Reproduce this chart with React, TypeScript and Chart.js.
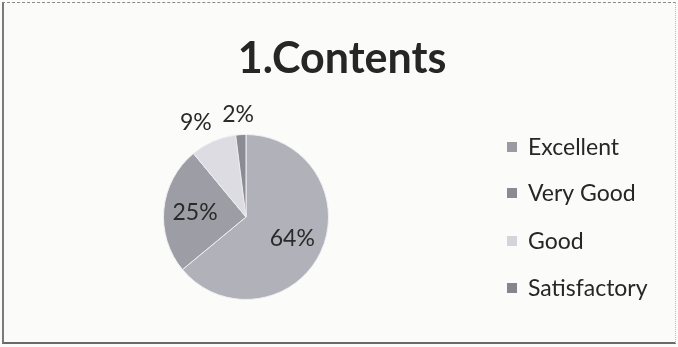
import React, { useEffect, useRef } from "react";
import { Chart, registerables } from "chart.js";

Chart.register(...registerables);

const TITLE = "1.Contents";
const categories = ["Excellent", "Very Good", "Good", "Satisfactory"];
const values = [64, 25, 9, 2];
const colors = ["#b1b1ba", "#9d9da6", "#dcdce2", "#8b8b94"];
const legendColors = ["#9a9aa2", "#8a8a92", "#d4d4da", "#85858d"];

const FONT = "Lato, 'Open Sans', 'DejaVu Sans', sans-serif";

const overlay = {
  id: "overlay",
  afterDraw(chart: any) {
    const ctx = chart.ctx as CanvasRenderingContext2D;
    const meta = chart.getDatasetMeta(0);
    const total = values.reduce((a, b) => a + b, 0);
    ctx.save();
    // title
    ctx.fillStyle = "#262626";
    ctx.font = `bold 43px ${FONT}`;
    ctx.textAlign = "center";
    ctx.textBaseline = "alphabetic";
    ctx.fillText(TITLE, 342, 73);

    // data labels
    ctx.font = `23px ${FONT}`;
    ctx.fillStyle = "#2a2a2a";
    ctx.textBaseline = "middle";
    meta.data.forEach((arc: any, i: number) => {
      const { x, y, startAngle, endAngle, outerRadius } = arc.getProps(
        ["x", "y", "startAngle", "endAngle", "outerRadius"],
        true
      );
      const mid = (startAngle + endAngle) / 2;
      const pct = Math.round((values[i] / total) * 100);
      const label = pct + "%";
      const inside = pct >= 15;
      const r = inside ? outerRadius * 0.62 : outerRadius + 20;
      let px = x + Math.cos(mid) * r;
      const py = y + Math.sin(mid) * r;
      if (!inside) px += Math.cos(mid) * (ctx.measureText(label).width / 2 + 8);
      ctx.textAlign = "center";
      ctx.fillText(label, px, py);
    });

    // legend
    const lx = 507;
    const ys = [147, 193, 241, 288];
    ctx.font = `23px ${FONT}`;
    ctx.textAlign = "left";
    categories.forEach((c, i) => {
      ctx.fillStyle = legendColors[i];
      ctx.fillRect(lx, ys[i] - 5, 10, 10);
      ctx.fillStyle = "#262626";
      ctx.fillText(c, lx + 21, ys[i] + 1);
    });
    ctx.restore();
  },
};

export default function App() {
  const ref = useRef<HTMLCanvasElement | null>(null);
  useEffect(() => {
    document.body.style.margin = "0";
    if (!ref.current) return;
    const cx = 246;
    const cy = 217;
    const r = 83;
    const chart = new Chart(ref.current, {
      type: "pie",
      data: {
        labels: categories,
        datasets: [
          {
            data: values,
            backgroundColor: colors,
            borderColor: "#eeeef0",
            borderWidth: 1,
          },
        ],
      },
      options: {
        animation: false,
        responsive: false,
        maintainAspectRatio: false,
        layout: {
          padding: {
            left: cx - r,
            top: cy - r,
            right: 678 - (cx + r),
            bottom: 347 - (cy + r),
          },
        },
        plugins: {
          legend: { display: false },
          title: { display: false },
          tooltip: { enabled: false },
        },
      },
      plugins: [overlay],
    });
    return () => chart.destroy();
  }, []);

  return (
    <div
      style={{
        position: "fixed",
        left: 0,
        top: 0,
        width: 678,
        height: 347,
        background: "#fbfbfa",
      }}
    >
      <canvas ref={ref} width={678} height={347} style={{ position: "absolute", left: 0, top: 0 }} />
      <div
        style={{
          position: "absolute",
          left: 2,
          top: 2,
          width: 671,
          height: 339,
          borderTop: "1px dashed #8a8a8a",
          borderLeft: "2px solid #7a7a7a",
          borderBottom: "2px solid #6a6a6a",
          borderRight: "1px dotted #bbbbbb",
          pointerEvents: "none",
        }}
      />
    </div>
  );
}
